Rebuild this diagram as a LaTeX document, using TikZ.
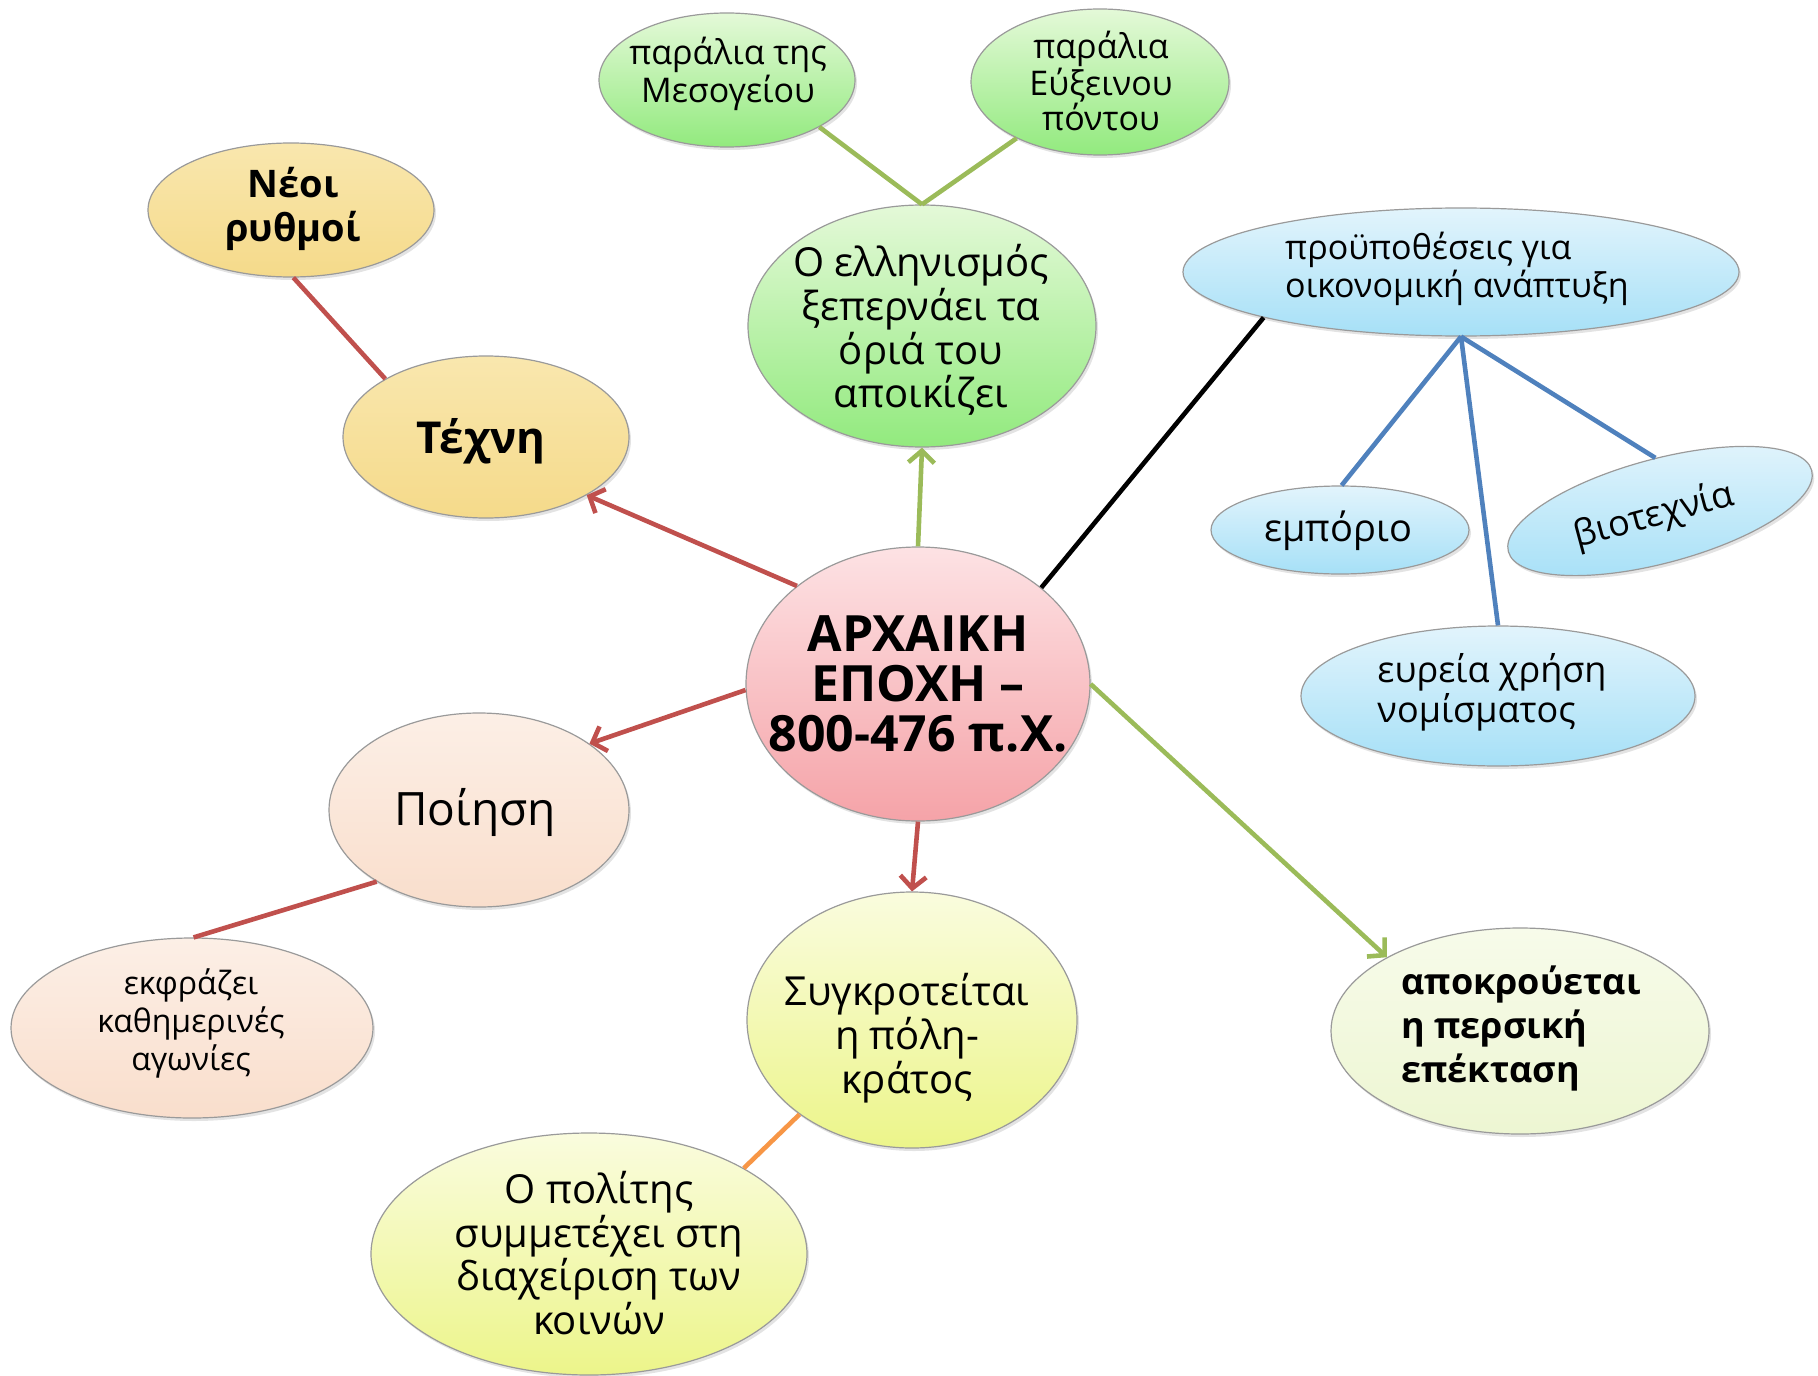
\documentclass[tikz,border=0pt]{standalone}
\usepackage{fontspec}
\setmainfont{Open Sans}
\usetikzlibrary{shapes.geometric,arrows.meta,shadows}
\definecolor{bordgray}{HTML}{9A9A9A}
\definecolor{pinkT}{HTML}{FDE2E4}\definecolor{pinkB}{HTML}{F5A3A8}
\definecolor{tanT}{HTML}{F9E7AE}\definecolor{tanB}{HTML}{F5DA8A}
\definecolor{grnT}{HTML}{E4F9D8}\definecolor{grnB}{HTML}{92EA7E}
\definecolor{bluT}{HTML}{E2F4FC}\definecolor{bluB}{HTML}{A6E0F7}
\definecolor{pchT}{HTML}{FCEFE6}\definecolor{pchB}{HTML}{F9DECC}
\definecolor{ygT}{HTML}{FAFCDE}\definecolor{ygB}{HTML}{ECF58A}
\definecolor{palT}{HTML}{F7FBEA}\definecolor{palB}{HTML}{EDF6D2}
\definecolor{lnred}{HTML}{C0504D}
\definecolor{lngrn}{HTML}{9BBB59}
\definecolor{lnblu}{HTML}{4F81BD}
\definecolor{lnorg}{HTML}{F79646}
\begin{document}
\begin{tikzpicture}[x=0.5pt,y=-0.5pt,
  bub/.style={ellipse, draw=bordgray, line width=0.6pt, inner sep=0pt,
    drop shadow={opacity=0.22,shadow xshift=1pt,shadow yshift=-1.5pt}},
  pinkb/.style={bub, top color=pinkT, bottom color=pinkB},
  tanb/.style={bub, top color=tanT, bottom color=tanB},
  grnb/.style={bub, top color=grnT, bottom color=grnB},
  blub/.style={bub, top color=bluT, bottom color=bluB},
  pchb/.style={bub, top color=pchT, bottom color=pchB},
  ygb/.style={bub, top color=ygT, bottom color=ygB},
  palb/.style={bub, top color=palT, bottom color=palB},
  txt/.style={align=center, inner sep=0pt},
  con/.style={line width=2.3pt},
  arr/.style={-{Straight Barb[length=6pt,width=13pt]}}
]
\useasboundingbox (0,0) rectangle (1818,1375);
% ellipses
\node[pinkb, minimum width=172pt, minimum height=137pt] (c) at (918,684) {};
\node[tanb, minimum width=143pt, minimum height=81pt] (tek) at (486,437) {};
\node[tanb, minimum width=143pt, minimum height=67pt] (neo) at (291,210) {};
\node[grnb, minimum width=174pt, minimum height=121pt] (ell) at (922,326) {};
\node[grnb, minimum width=128pt, minimum height=67pt] (mes) at (727,80) {};
\node[grnb, minimum width=129pt, minimum height=73pt] (eux) at (1100,82) {};
\node[blub, minimum width=278pt, minimum height=64pt] (pro) at (1461,272) {};
\node[blub, minimum width=129pt, minimum height=44pt] (emp) at (1340,530) {};
\node[blub, minimum width=157pt, minimum height=52pt, rotate=15] (bio) at (1660,511) {};
\node[blub, minimum width=197pt, minimum height=70pt] (eur) at (1498,696) {};
\node[palb, minimum width=189pt, minimum height=103pt] (apo) at (1520,1031) {};
\node[ygb, minimum width=165pt, minimum height=128pt] (syg) at (912,1020) {};
\node[ygb, minimum width=218pt, minimum height=121pt] (pol) at (589,1254) {};
\node[pchb, minimum width=150pt, minimum height=97pt] (poi) at (479,810) {};
\node[pchb, minimum width=181pt, minimum height=90pt] (ekf) at (192,1028) {};
% texts
\node[txt, font=\fontsize{25}{25}\selectfont\bfseries] (tc) at (918,684) {ΑΡΧΑΙΚΗ\\ΕΠΟΧΗ –\\800-476 π.Χ.};
\node[txt, font=\fontsize{22}{22}\selectfont\bfseries] (ttek) at (481,441) {Τέχνη};
\node[txt, font=\fontsize{19}{22}\selectfont\bfseries] (tneo) at (293,209) {Νέοι\\ρυθμοί};
\node[txt, font=\fontsize{20}{20}\selectfont] (tell) at (921,330) {Ο ελληνισμός\\ξεπερνάει τα\\όριά του\\αποικίζει};
\node[txt, font=\fontsize{17}{17}\selectfont] (tmes) at (728,74) {παράλια της\\Μεσογείου};
\node[txt, font=\fontsize{17}{17.5}\selectfont] (teux) at (1101,81) {παράλια\\Εύξεινου\\πόντου};
\node[txt, align=left, font=\fontsize{17}{19}\selectfont] (tpro) at (1457,269) {προϋποθέσεις για\\οικονομική ανάπτυξη};
\node[txt, font=\fontsize{19}{19}\selectfont] (temp) at (1338,531) {εμπόριο};
\node[txt, rotate=15, font=\fontsize{18}{18}\selectfont] (tbio) at (1654,516) {βιοτεχνία};
\node[txt, align=left, font=\fontsize{18}{20}\selectfont] (teur) at (1492,692) {ευρεία χρήση\\νομίσματος};
\node[txt, align=left, font=\fontsize{18}{22}\selectfont\bfseries] (tapo) at (1521,1028) {αποκρούεται\\η περσική\\επέκταση};
\node[txt, font=\fontsize{20}{20}\selectfont] (tsyg) at (907,1038) {Συγκροτείται\\η πόλη-\\κράτος};
\node[txt, font=\fontsize{20}{20}\selectfont] (tpol) at (599,1253) {Ο πολίτης\\συμμετέχει στη\\διαχείριση των\\κοινών};
\node[txt, font=\fontsize{23}{23}\selectfont] (tpoi) at (475,812) {Ποίηση};
\node[txt, font=\fontsize{16}{19}\selectfont] (tekf) at (191,1023) {εκφράζει\\καθημερινές\\αγωνίες};
% connectors
\draw[con, lnred, arr] (c.141) -- (tek.330);
\draw[con, lnred] (tek.150) -- (neo.272);
\draw[con, lngrn, arr] (c.90) -- (ell.270);
\draw[con, lngrn] (ell.90) -- (mes.333);
\draw[con, lngrn] (ell.90) -- (eux.214);
\draw[con, black] (c.38) -- (pro.193);
\draw[con, lnblu] (pro.270) -- (emp.88);
\draw[con, lnblu] (pro.270) -- (eur.90);
\draw[con, lnblu] (pro.270) -- (bio.80);
\draw[con, lngrn, arr] (c.0) -- (apo.151);
\draw[con, lnred, arr] (c.270) -- (syg.90);
\draw[con, lnorg] (syg.220) -- (pol.29);
\draw[con, lnred, arr] (c.182) -- (poi.31);
\draw[con, lnred] (poi.215) -- (ekf.89);
\end{tikzpicture}
\end{document}
